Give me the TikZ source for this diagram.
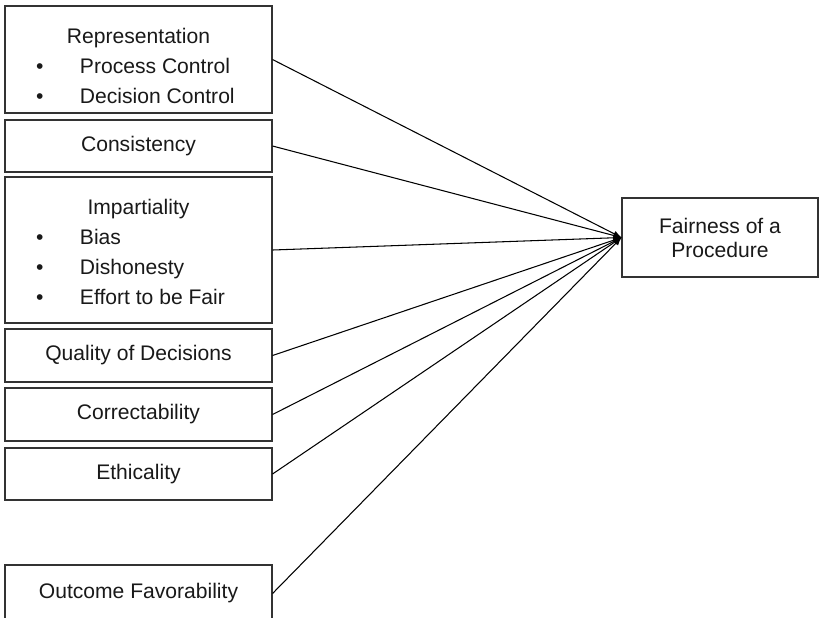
\documentclass[tikz,border=0pt]{standalone}
\usepackage{fontspec}
\setmainfont{Liberation Sans}
\usetikzlibrary{arrows,arrows.meta}
\tikzset{>=latex}
\colorlet{boxcol}{black!80}
\colorlet{txtcol}{black!90}
\tikzset{
  factor/.style={draw=boxcol,line width=0.6pt,text=txtcol,align=center,
                 minimum width=5.34cm,inner sep=0pt,
                 font={\fontsize{12}{17.1}\selectfont}},
  outcome/.style={draw=boxcol,line width=0.6pt,text=txtcol,align=center,
                  minimum width=3.92cm,minimum height=1.58cm,inner sep=0pt,
                  font={\fontsize{12}{13.7}\selectfont}},
  link/.style={->,line width=0.6pt,black}}
\newcommand\bitem[1]{\makebox[4.1cm][l]{\makebox[0.88cm][l]{\textbullet}#1}}

\begin{document}
\begin{tikzpicture}
  \useasboundingbox (0,0) rectangle (16.38,-12.34);
  \def\xl{2.77}  % centre of the left column
  
  % FACTORS
  \node[factor,minimum height=2.14cm] (rep) at (\xl,-1.19)
    {\rule{0pt}{0.58cm}Representation\\ \bitem{Process Control}\\ \bitem{Decision Control}};
  \node[factor,minimum height=1.04cm] (cons) at (\xl,-2.92) {Consistency};
  \node[factor,minimum height=2.92cm] (imp) at (\xl,-5.00)
    {\rule{0pt}{0.40cm}Impartiality\\ \bitem{Bias}\\ \bitem{Dishonesty}\\ \bitem{Effort to be Fair}};
  \node[factor,minimum height=1.06cm] (qual) at (\xl,-7.11) {Quality of Decisions};
  \node[factor,minimum height=1.06cm] (corr) at (\xl,-8.29) {Correctability};
  \node[factor,minimum height=1.04cm] (eth) at (\xl,-9.48) {Ethicality};
  \node[factor,minimum height=1.14cm] (fav) at (\xl,-11.87) {Outcome Favorability};
  
  % FAIRNESS
  \node[outcome] (fair) at (14.40,-4.75) {Fairness of a\\Procedure};
  
  % ARROWS
  \foreach \f in {rep,cons,imp,qual,corr,eth,fav}{
    \draw[link] (\f.east) -- (fair.west);
  }
  
\end{tikzpicture}
\end{document}
